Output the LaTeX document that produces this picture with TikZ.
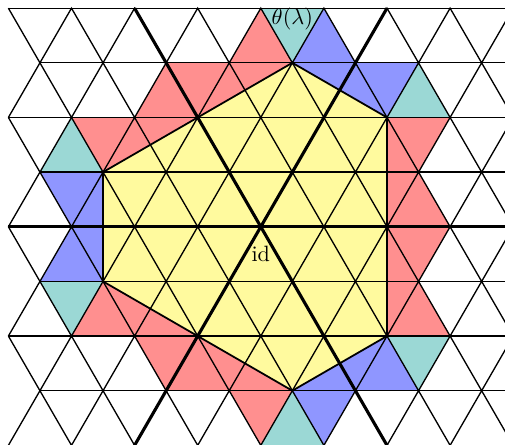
\documentclass[tikz,border=0pt]{standalone}

\definecolor{alcred}{RGB}{255,143,143}
\definecolor{alcblue}{RGB}{143,150,255}
\definecolor{alcteal}{RGB}{155,216,213}
\definecolor{hullyellow}{RGB}{255,250,158}

\begin{document}
\begin{tikzpicture}[x=1cm, y=0.866cm,
    grid/.style={line width=0.6pt},
    wall/.style={line width=1.4pt},
    hull/.style={line width=0.8pt, line join=round},
    redalc/.style={fill=alcred},
    bluealc/.style={fill=alcblue},
    tealalc/.style={fill=alcteal},
  ]
  \useasboundingbox (-4.133,-3.993) rectangle (3.870,4.150);
  \clip (-4.133,-3.993) rectangle (3.870,4.150);

  % hexagon corners
  \coordinate (h1) at (-2.5, 1);
  \coordinate (h2) at ( 0.5, 3);
  \coordinate (h3) at ( 2,   2);
  \coordinate (h4) at ( 2,  -2);
  \coordinate (h5) at ( 0.5,-3);
  \coordinate (h6) at (-2.5,-1);

  % red alcoves
  \fill[redalc] (-0.5,3) -- (0,4) -- (0.5,3) -- cycle
    (-2,2) -- (-1.5,3) -- (-1,2) -- cycle
    (-1.5,3) -- (-0.5,3) -- (-1,2) -- cycle
    (-1,2) -- (-0.5,3) -- (0,2) -- cycle
    (-0.5,3) -- (0.5,3) -- (0,2) -- cycle
    (-3,2) -- (-2,2) -- (-2.5,1) -- cycle
    (-2.5,1) -- (-2,2) -- (-1.5,1) -- cycle
    (-2,2) -- (-1,2) -- (-1.5,1) -- cycle
    (2,2) -- (3,2) -- (2.5,1) -- cycle
    (1.5,1) -- (2,2) -- (2.5,1) -- cycle
    (2,0) -- (2.5,1) -- (3,0) -- cycle
    (1.5,1) -- (2.5,1) -- (2,0) -- cycle
    (2,0) -- (3,0) -- (2.5,-1) -- cycle
    (1.5,-1) -- (2,0) -- (2.5,-1) -- cycle
    (2,-2) -- (2.5,-1) -- (3,-2) -- cycle
    (1.5,-1) -- (2.5,-1) -- (2,-2) -- cycle
    (-3,-2) -- (-2.5,-1) -- (-2,-2) -- cycle
    (-2.5,-1) -- (-1.5,-1) -- (-2,-2) -- cycle
    (-2,-2) -- (-1.5,-1) -- (-1,-2) -- cycle
    (-2,-2) -- (-1,-2) -- (-1.5,-3) -- cycle
    (-1.5,-3) -- (-1,-2) -- (-0.5,-3) -- cycle
    (-1,-2) -- (0,-2) -- (-0.5,-3) -- cycle
    (-0.5,-3) -- (0,-2) -- (0.5,-3) -- cycle
    (-0.5,-3) -- (0.5,-3) -- (0,-4) -- cycle;

  % blue alcoves
  \fill[bluealc] (0.5,3) -- (1,4) -- (1.5,3) -- cycle
    (0.5,3) -- (1.5,3) -- (1,2) -- cycle
    (1,2) -- (1.5,3) -- (2,2) -- cycle
    (1.5,3) -- (2.5,3) -- (2,2) -- cycle
    (-3.5,1) -- (-2.5,1) -- (-3,0) -- cycle
    (-3,0) -- (-2.5,1) -- (-2,0) -- cycle
    (-3.5,-1) -- (-3,0) -- (-2.5,-1) -- cycle
    (-3,0) -- (-2,0) -- (-2.5,-1) -- cycle
    (0.5,-3) -- (1,-2) -- (1.5,-3) -- cycle
    (1,-2) -- (2,-2) -- (1.5,-3) -- cycle
    (1.5,-3) -- (2,-2) -- (2.5,-3) -- cycle
    (0.5,-3) -- (1.5,-3) -- (1,-4) -- cycle;

  % teal alcoves
  \fill[tealalc] (0,4) -- (1,4) -- (0.5,3) -- cycle
    (2,2) -- (2.5,3) -- (3,2) -- cycle
    (-3.5,1) -- (-3,2) -- (-2.5,1) -- cycle
    (-3.5,-1) -- (-2.5,-1) -- (-3,-2) -- cycle
    (2,-2) -- (3,-2) -- (2.5,-3) -- cycle
    (0,-4) -- (0.5,-3) -- (1,-4) -- cycle;

  % convex hull
  \fill[hullyellow] (h1) -- (h2) -- (h3) -- (h4) -- (h5) -- (h6) -- cycle;

  % lattice
  \foreach \j in {-4,...,4}
    \draw[grid] ({-4+mod(\j+10,2)/2},\j) -- (5,\j);
  \foreach \j in {-4,...,3}
    \draw[grid] (-4,{\j+mod(\j+10,2)})
      \foreach \m in {1,...,19} { -- ({-4+\m/2},{\j+mod(\m+\j+10,2)}) };

  % walls through id
  \draw[wall] (-4,0) -- (5,0);
  \draw[wall] (-2,-4) -- (2,4);
  \draw[wall] (-2,4) -- (2,-4);

  \draw[hull] (h1) -- (h2) -- (h3) -- (h4) -- (h5) -- (h6) -- cycle;

  \node (id) at (0,-0.5) {id};
  \node (theta) at (0.5,3.8) {$\theta(\lambda)$};
\end{tikzpicture}
\end{document}
